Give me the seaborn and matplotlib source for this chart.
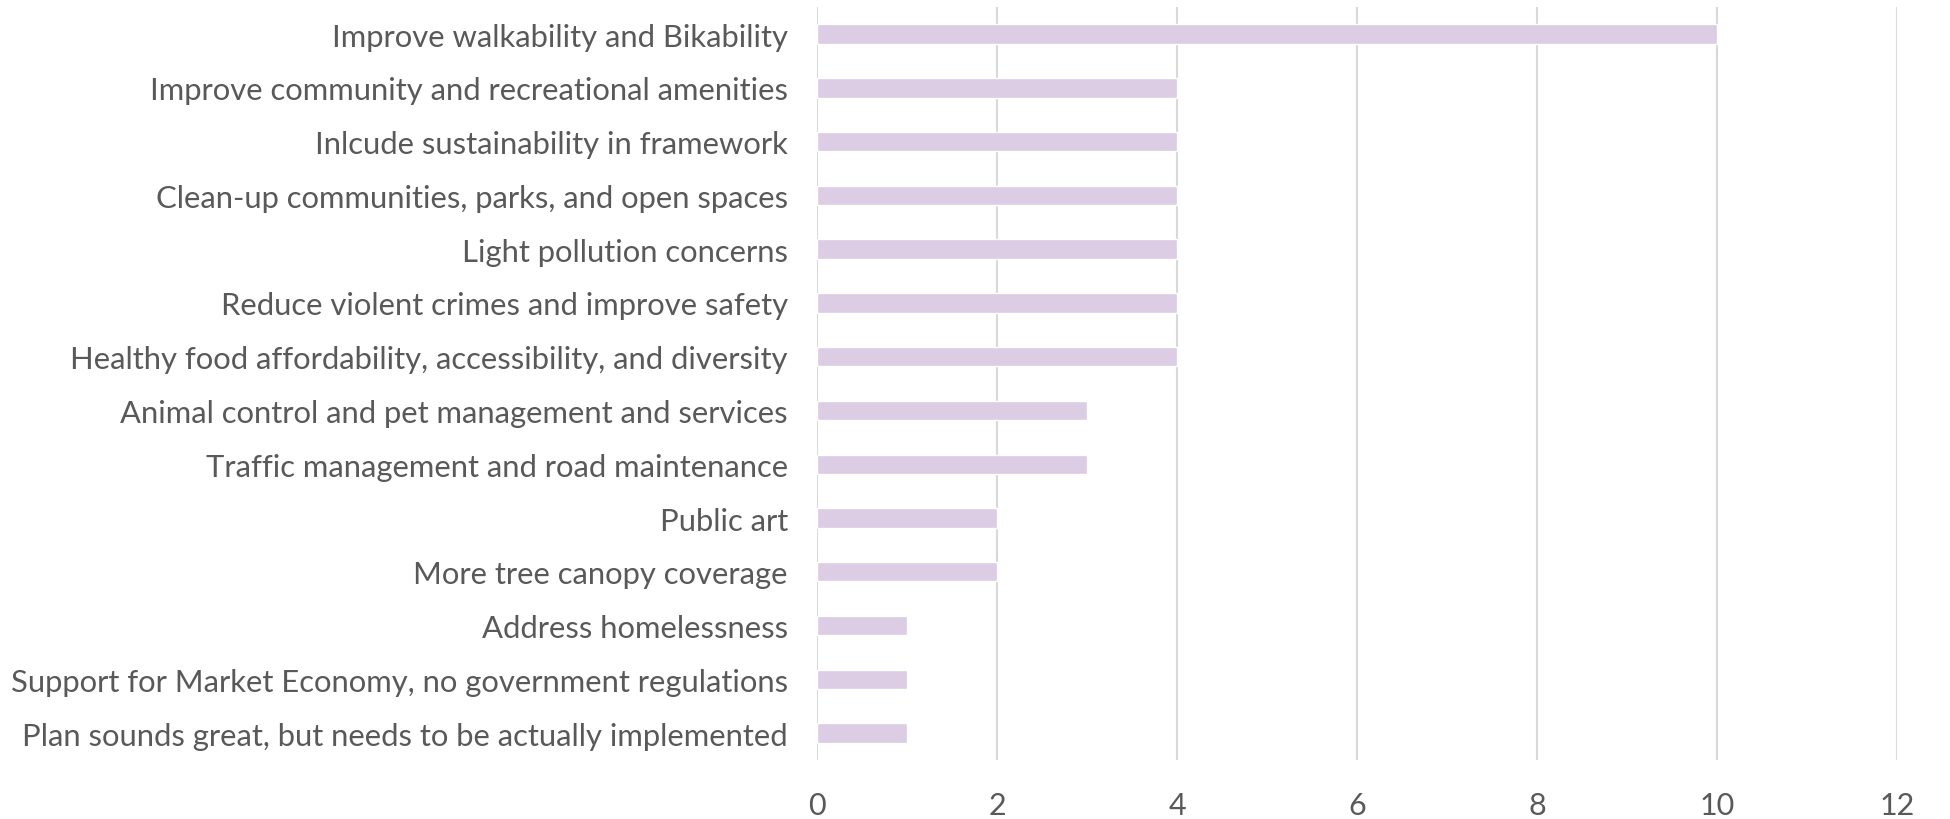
import matplotlib
matplotlib.use("Agg")
import matplotlib.pyplot as plt
import pandas as pd
import seaborn as sns

categories = [
    "Improve walkability and Bikability",
    "Improve community and recreational amenities",
    "Inlcude sustainability in framework",
    "Clean-up communities, parks, and open spaces",
    "Light pollution concerns",
    "Reduce violent crimes and improve safety",
    "Healthy food affordability, accessibility, and diversity",
    "Animal control and pet management and services",
    "Traffic management and road maintenance",
    "Public art",
    "More tree canopy coverage",
    "Address homelessness",
    "Support for Market Economy, no government regulations",
    "Plan sounds great, but needs to be actually implemented",
]
counts = [10, 4, 4, 4, 4, 4, 4, 3, 3, 2, 2, 1, 1, 1]
xticks = [0, 2, 4, 6, 8, 10, 12]

df = pd.DataFrame({"category": categories, "count": counts})

sns.set_theme(style="white")
plt.rcParams["font.family"] = ["Lato", "DejaVu Sans"]

fig = plt.figure(figsize=(19.5, 8.2), dpi=100)
ax = fig.add_axes([0.419, 0.072, 0.554, 0.918])

sns.barplot(data=df, x="count", y="category", color="#DCCCE4",
            saturation=1, width=0.36, ax=ax)

ax.set_xlim(0, 12)
ax.set_ylim(13.5, -0.5)
ax.set_xticks(xticks)
ax.set_xticklabels([str(t) for t in xticks])
ax.xaxis.grid(True, color="#D9D9D9", linewidth=1.5)
ax.set_axisbelow(True)
for s in ax.spines.values():
    s.set_visible(False)
ax.set_xlabel("")
ax.set_ylabel("")
ax.tick_params(axis="y", length=0, pad=21, labelsize=22.3, labelcolor="#595959")
ax.tick_params(axis="x", length=0, pad=22, labelsize=22, labelcolor="#595959")

fig.savefig("out.png", dpi=100, facecolor="white")
